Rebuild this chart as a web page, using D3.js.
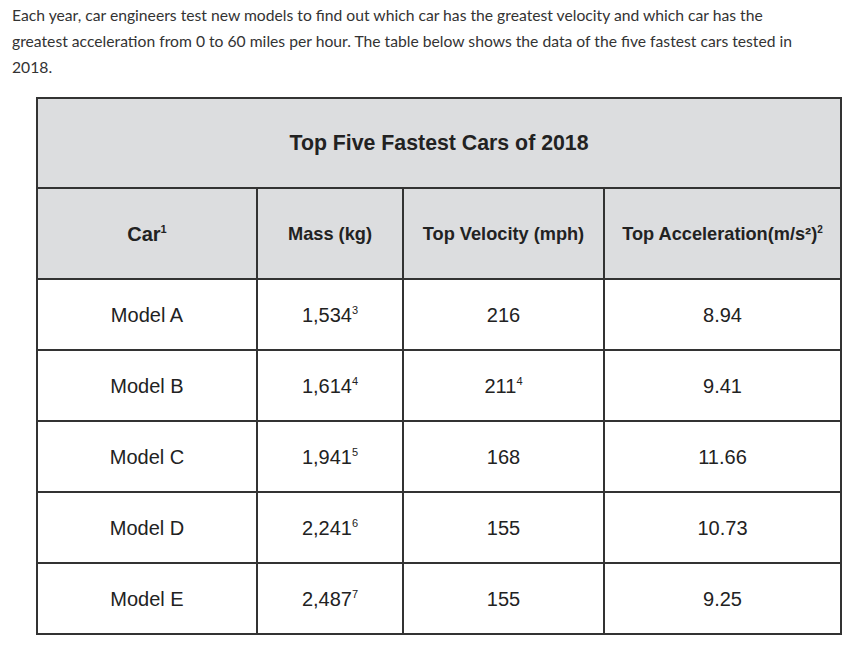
<!DOCTYPE html>
<html>
<head>
<meta charset="utf-8">
<script src="https://cdn.jsdelivr.net/npm/d3@7"></script>
<style>
  body { margin: 0; background: #fff; }
  svg { display: block; }
</style>
</head>
<body>
<div id="chart"></div>
<script>
'use strict';

// intro text above the table
var introLines = [
  'Each year, car engineers test new models to find out which car has the greatest velocity and which car has the',
  'greatest acceleration from 0 to 60 miles per hour. The table below shows the data of the five fastest cars tested in',
  '2018.'
];

var tableTitle = 'Top Five Fastest Cars of 2018';

// column headers, with their footnote marks
var headers = ['Car', 'Mass (kg)', 'Top Velocity (mph)', 'Top Acceleration(m/s²)'];
var headerNotes = ['1', '', '', '2'];

// rows
var cars = ['Model A', 'Model B', 'Model C', 'Model D', 'Model E'];
var mass = ['1,534', '1,614', '1,941', '2,241', '2,487'];
var massNotes = ['3', '4', '5', '6', '7'];
var velocity = ['216', '211', '168', '155', '155'];
var velocityNotes = ['', '4', '', '', ''];
var acceleration = ['8.94', '9.41', '11.66', '10.73', '9.25'];

var width = 868;
var height = 651;

var svg = d3.select('#chart')
  .append('svg')
  .attr('width', width)
  .attr('height', height);

// setup variables
var tableLeft = 37;
var tableRight = 841;
var tableTop = 98;
var titleHeight = 90;
var headerHeight = 91;
var tableBottom = 634;
var colEdges = [tableLeft, 257, 403, 604, tableRight];
var headerFill = '#dcdddf';
var lineColor = '#333';
var textColor = '#222';
var tableFont = '"Liberation Sans", Arial, Helvetica, sans-serif';

// intro paragraph
svg.selectAll('text.intro')
  .data(introLines)
  .enter()
  .append('text')
  .attr('class', 'intro')
  .attr('x', 12)
  .attr('y', function(d, i) { return 21 + i * 26; })
  .attr('fill', '#333')
  .style('font-family', 'Lato, sans-serif')
  .style('font-size', '15.7px')
  .text(function(d) { return d; });

// scales for the table body
var headerTop = tableTop + titleHeight;
var bodyTop = headerTop + headerHeight;

var y = d3.scaleBand()
  .domain(d3.range(cars.length))
  .range([bodyTop, tableBottom]);

var colCenter = function(c) {
  return (colEdges[c] + colEdges[c + 1]) / 2;
};

// header background
svg.append('rect')
  .attr('x', tableLeft)
  .attr('y', tableTop)
  .attr('width', tableRight - tableLeft)
  .attr('height', bodyTop - tableTop)
  .attr('fill', headerFill);

// title
svg.append('text')
  .attr('x', (tableLeft + tableRight) / 2)
  .attr('y', tableTop + titleHeight / 2)
  .attr('dy', '0.35em')
  .attr('text-anchor', 'middle')
  .attr('fill', textColor)
  .style('font-family', tableFont)
  .style('font-weight', 'bold')
  .style('font-size', '21.3px')
  .text(tableTitle);

// helper: text with an optional superscript note
function cellText(sel, x, yPos, main, note, size, bold) {
  var t = sel.append('text')
    .attr('x', x)
    .attr('y', yPos)
    .attr('dy', '0.35em')
    .attr('text-anchor', 'middle')
    .attr('fill', textColor)
    .style('font-family', tableFont)
    .style('font-size', size + 'px')
    .style('font-weight', bold ? 'bold' : 'normal');
  t.append('tspan').text(main);
  if (note) {
    t.append('tspan')
      .attr('dy', -size * 0.38)
      .style('font-size', (size * 0.55) + 'px')
      .text(note);
  }
}

// column headers (the first one is set a little larger)
headers.forEach(function(h, c) {
  cellText(svg, colCenter(c), headerTop + headerHeight / 2, h, headerNotes[c], c === 0 ? 20 : 18.2, true);
});

// body rows
var columns = [
  { values: cars, notes: null },
  { values: mass, notes: massNotes },
  { values: velocity, notes: velocityNotes },
  { values: acceleration, notes: null }
];

columns.forEach(function(col, c) {
  col.values.forEach(function(v, i) {
    cellText(svg, colCenter(c), y(i) + y.bandwidth() / 2,
      v, col.notes ? col.notes[i] : '', 20, false);
  });
});

// grid lines
var hLines = [tableTop, headerTop].concat(d3.range(cars.length).map(function(i) { return y(i); }), [tableBottom]);

svg.selectAll('line.h')
  .data(hLines)
  .enter()
  .append('line')
  .attr('class', 'h')
  .attr('x1', tableLeft)
  .attr('x2', tableRight)
  .attr('y1', function(d) { return d; })
  .attr('y2', function(d) { return d; })
  .attr('stroke', lineColor)
  .attr('stroke-width', 2);

svg.selectAll('line.v')
  .data(colEdges)
  .enter()
  .append('line')
  .attr('class', 'v')
  .attr('x1', function(d) { return d; })
  .attr('x2', function(d) { return d; })
  .attr('y1', function(d, i) { return (i === 0 || i === colEdges.length - 1) ? tableTop - 1 : headerTop; })
  .attr('y2', tableBottom + 1)
  .attr('stroke', lineColor)
  .attr('stroke-width', 2);
</script>
</body>
</html>
